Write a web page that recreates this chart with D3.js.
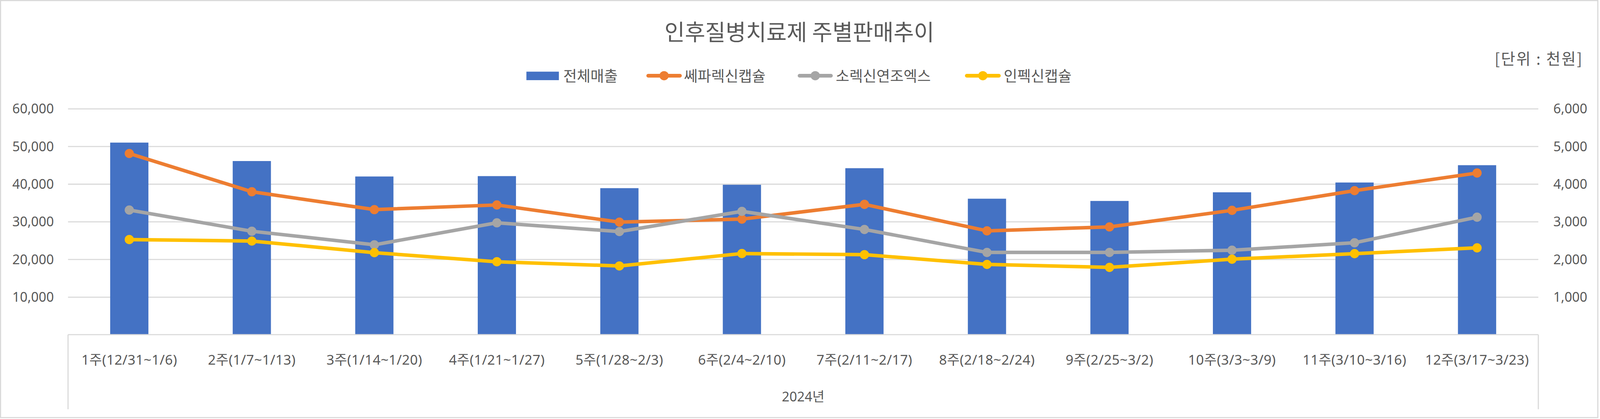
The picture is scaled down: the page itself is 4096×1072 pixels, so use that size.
<!DOCTYPE html>
<html>
<head>
<meta charset="utf-8">
<script src="https://cdn.jsdelivr.net/npm/d3@7"></script>
<style>
  html, body { margin: 0; padding: 0; background: #fff; }
  svg { display: block; }
</style>
</head>
<body>
<svg id="chart" width="4096" height="1072"></svg>
<script>
// ---- data ----
const categories = ["1주(12/31~1/6)", "2주(1/7~1/13)", "3주(1/14~1/20)", "4주(1/21~1/27)",
  "5주(1/28~2/3)", "6주(2/4~2/10)", "7주(2/11~2/17)", "8주(2/18~2/24)",
  "9주(2/25~3/2)", "10주(3/3~3/9)", "11주(3/10~3/16)", "12주(3/17~3/23)"];
const groupLabel = "2024년";
const totalSales = [51000, 46100, 42000, 42100, 38900, 39800, 44200, 36100, 35500, 37800, 40400, 45000];
const seriesNames = ["쎄파렉신캡슐", "소렉신연조엑스", "인펙신캡슐"];
const cephalexin = [4810, 3795, 3320, 3444, 2988, 3068, 3460, 2756, 2861, 3301, 3824, 4293];
const sorexin = [3309, 2746, 2386, 2970, 2737, 3274, 2793, 2183, 2183, 2242, 2440, 3119];
const infexin = [2525, 2485, 2177, 1936, 1824, 2154, 2124, 1865, 1786, 2004, 2151, 2305];
const barName = "전체매출";
const leftTicks = [10000, 20000, 30000, 40000, 50000, 60000];
const rightTicks = [1000, 2000, 3000, 4000, 5000, 6000];
const titleText = "인후질병치료제 주별판매추이";
const unitText = "[단위 : 천원]";

// ---- styles ----
const colors = { bar: "#4472C4", lines: ["#ED7D31", "#A5A5A5", "#FFC000"] };
const textColor = "#595959";
const gridColor = "#D9D9D9";
const numFont = "'Noto Sans', 'Noto Sans CJK KR', sans-serif";
const krFont = "'Noto Sans CJK KR', 'Noto Sans', sans-serif";

const W = 4331, H = 1133;
const svg = d3.select("#chart");
const root = svg.append("g").attr("transform", "scale(0.945)");

// outer border
root.append("rect").attr("x", 1.5).attr("y", 1.5).attr("width", W - 4).attr("height", H - 4)
  .attr("fill", "#fff").attr("stroke", gridColor).attr("stroke-width", 3);

const plot = { left: 184.3, right: 4167.3, top: 294.3, bottom: 906 };

const x = d3.scaleBand().domain(categories).range([plot.left, plot.right])
  .paddingInner(0.688).paddingOuter(0.344);
const yL = d3.scaleLinear().domain([0, 60000]).range([plot.bottom, plot.top]);
const yR = d3.scaleLinear().domain([0, 6000]).range([plot.bottom, plot.top]);
const cx = d => x(d) + x.bandwidth() / 2;

// gridlines
const grid = root.append("g").attr("transform", `translate(${plot.left},0)`)
  .call(d3.axisLeft(yL).tickValues(leftTicks).tickSize(-(plot.right - plot.left)).tickFormat(""));
grid.select(".domain").remove();
grid.selectAll("line").attr("stroke", gridColor).attr("stroke-width", 3);

// bars
root.append("g").selectAll("rect").data(totalSales).join("rect")
  .attr("x", (d, i) => x(categories[i]))
  .attr("width", x.bandwidth())
  .attr("y", d => yL(d))
  .attr("height", d => yL(0) - yL(d))
  .attr("fill", colors.bar);

// category axis box
const axisG = root.append("g").attr("stroke", gridColor).attr("stroke-width", 3).attr("fill", "none");
axisG.append("line").attr("x1", plot.left).attr("x2", plot.right).attr("y1", plot.bottom).attr("y2", plot.bottom);
axisG.append("line").attr("x1", plot.left).attr("x2", plot.left).attr("y1", plot.bottom).attr("y2", 1108);
axisG.append("line").attr("x1", plot.right).attr("x2", plot.right).attr("y1", plot.bottom).attr("y2", 1108);

// category labels
const xAxis = root.append("g").attr("transform", `translate(0,${plot.bottom})`)
  .call(d3.axisBottom(x).tickSize(0).tickPadding(0));
xAxis.select(".domain").remove();
xAxis.selectAll("text").attr("y", 81).attr("dy", 0)
  .attr("font-family", numFont).attr("font-size", 37).attr("letter-spacing", 0.5).attr("fill", textColor);

root.append("text").attr("x", (plot.left + plot.right) / 2).attr("y", 1087)
  .attr("text-anchor", "middle").attr("font-family", numFont).attr("font-size", 36)
  .attr("fill", textColor).text(groupLabel);

// left axis labels
const fmt = d3.format(",");
const la = root.append("g").attr("transform", `translate(146,0)`)
  .call(d3.axisLeft(yL).tickValues(leftTicks).tickSize(0).tickPadding(0).tickFormat(fmt));
la.select(".domain").remove();
la.selectAll("text").attr("font-family", numFont).attr("font-size", 36).attr("fill", textColor).attr("dy", "0.34em");

// right axis labels
const ra = root.append("g").attr("transform", `translate(4208,0)`)
  .call(d3.axisRight(yR).tickValues(rightTicks).tickSize(0).tickPadding(0).tickFormat(fmt));
ra.select(".domain").remove();
ra.selectAll("text").attr("font-family", numFont).attr("font-size", 36).attr("fill", textColor).attr("dy", "0.34em");

// lines
const lineSeries = [cephalexin, sorexin, infexin];
const lineGen = d3.line().x((d, i) => cx(categories[i])).y(d => yR(d));
lineSeries.forEach((s, k) => {
  const g = root.append("g");
  g.append("path").datum(s).attr("d", lineGen).attr("fill", "none")
    .attr("stroke", colors.lines[k]).attr("stroke-width", 9.5)
    .attr("stroke-linejoin", "round").attr("stroke-linecap", "round");
  g.selectAll("circle").data(s).join("circle")
    .attr("cx", (d, i) => cx(categories[i])).attr("cy", d => yR(d)).attr("r", 12.5)
    .attr("fill", colors.lines[k]);
});

// title
root.append("text").attr("x", W / 2).attr("y", 109).attr("text-anchor", "middle")
  .attr("font-family", krFont).attr("font-size", 60).attr("fill", textColor).text(titleText);

// unit
root.append("text").attr("x", 4049).attr("y", 175)
  .attr("textLength", 237).attr("lengthAdjust", "spacing")
  .attr("font-family", krFont).attr("font-size", 42).attr("fill", textColor).text(unitText);

// legend
const legY = 205;
const leg = root.append("g");
leg.append("rect").attr("x", 1426).attr("y", 194).attr("width", 88).attr("height", 23).attr("fill", colors.bar);
leg.append("text").attr("x", 1526).attr("y", legY + 15).attr("font-family", krFont).attr("font-size", 40)
  .attr("fill", textColor).text(barName);
const legLines = [{ x0: 1751, x1: 1847, tx: 1853 }, { x0: 2161, x1: 2256, tx: 2264 }, { x0: 2614, x1: 2711, tx: 2719 }];
legLines.forEach((l, k) => {
  leg.append("line").attr("x1", l.x0 + 5).attr("x2", l.x1 - 5).attr("y1", legY).attr("y2", legY)
    .attr("stroke", colors.lines[k]).attr("stroke-width", 10).attr("stroke-linecap", "round");
  leg.append("circle").attr("cx", (l.x0 + l.x1) / 2).attr("cy", legY).attr("r", 12.5).attr("fill", colors.lines[k]);
  leg.append("text").attr("x", l.tx).attr("y", legY + 15).attr("font-family", krFont).attr("font-size", 40)
    .attr("fill", textColor).text(seriesNames[k]);
});
</script>
</body>
</html>
